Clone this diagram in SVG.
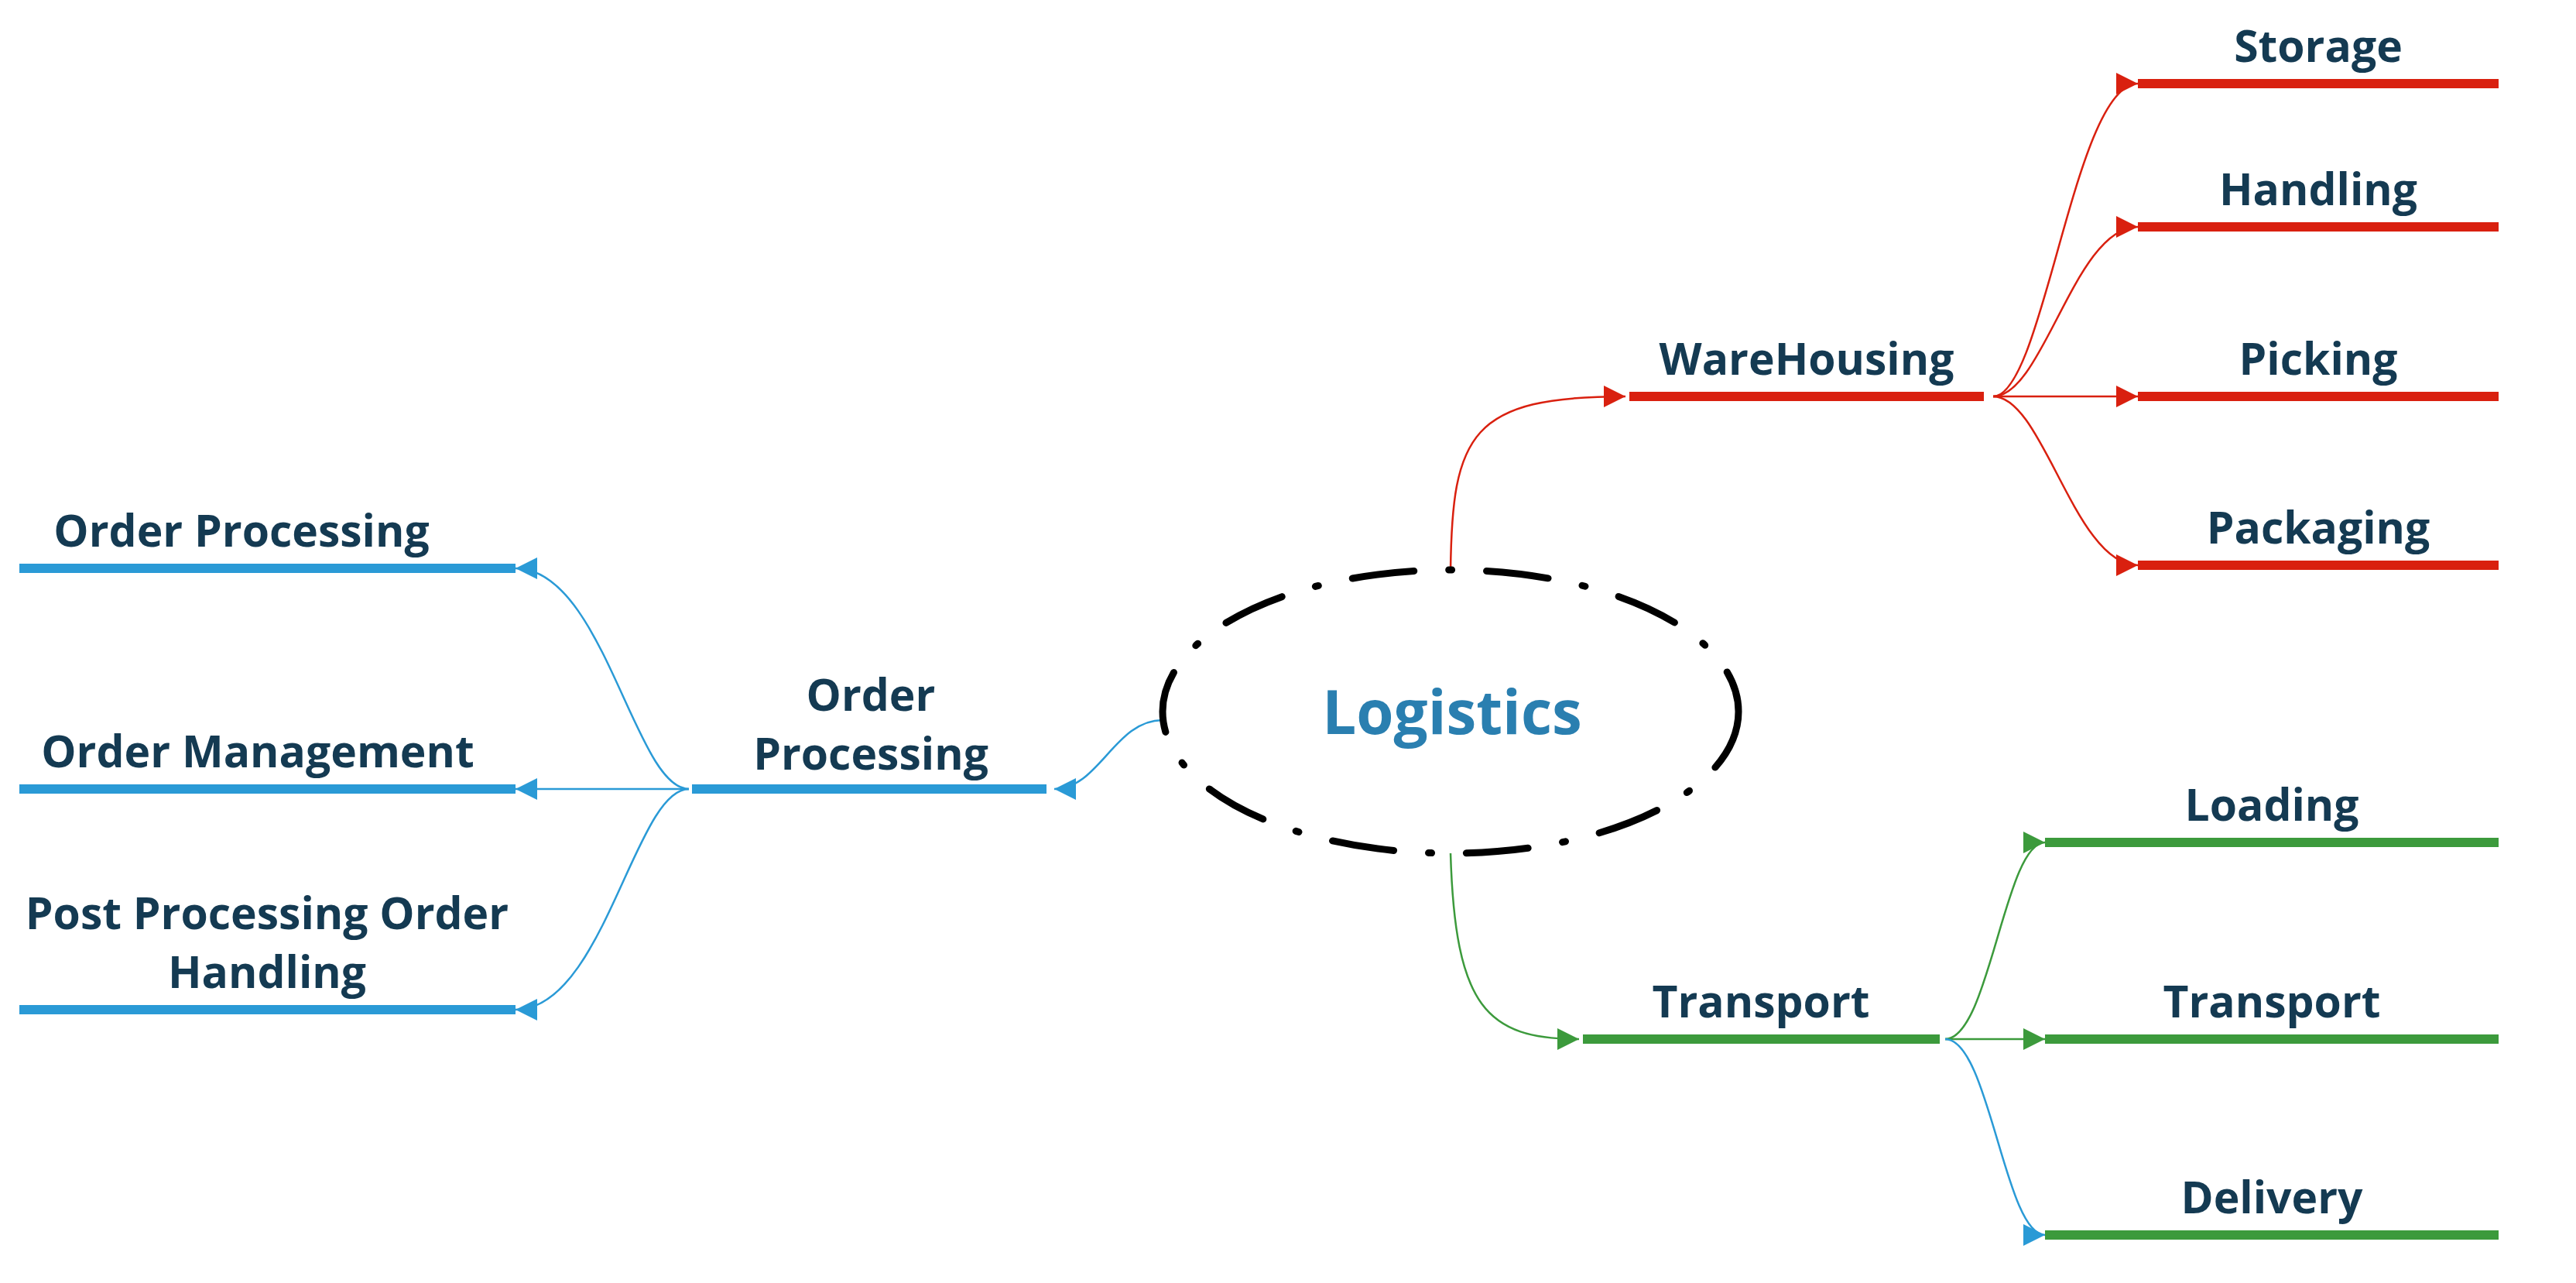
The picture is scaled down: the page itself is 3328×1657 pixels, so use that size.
<svg xmlns="http://www.w3.org/2000/svg" width="3328" height="1657" viewBox="0 0 3328 1657">
<style>
text{font-family:"Open Sans","Liberation Sans",sans-serif;font-weight:700;fill:#143A52;font-size:57px;text-anchor:middle}
.c{fill:none;stroke-width:2.5}
.r{stroke:#D9200F}.g{stroke:#3C9A3C}.b{stroke:#2A9AD6}
.bar{stroke-width:12}
</style>
<defs>
<marker id="ar" viewBox="0 0 10 10" refX="10" refY="5" markerWidth="28" markerHeight="28" markerUnits="userSpaceOnUse" orient="auto"><path d="M0,0L10,5L0,10z" fill="#D9200F"/></marker>
<marker id="ag" viewBox="0 0 10 10" refX="10" refY="5" markerWidth="28" markerHeight="28" markerUnits="userSpaceOnUse" orient="auto"><path d="M0,0L10,5L0,10z" fill="#3C9A3C"/></marker>
<marker id="ab" viewBox="0 0 10 10" refX="10" refY="5" markerWidth="28" markerHeight="28" markerUnits="userSpaceOnUse" orient="auto"><path d="M0,0L10,5L0,10z" fill="#2A9AD6"/></marker>
</defs>
<rect width="3328" height="1657" fill="#fff"/>
<g id="connectors">
<path class="c r" d="M1874,738 C1876,560 1900,512 2100,512" marker-end="url(#ar)"/>
<path class="c r" d="M2575,512 C2640,512 2680,108 2762,108" marker-end="url(#ar)"/>
<path class="c r" d="M2575,512 C2640,512 2680,293 2762,293" marker-end="url(#ar)"/>
<path class="c r" d="M2575,512 L2762,512" marker-end="url(#ar)"/>
<path class="c r" d="M2575,512 C2640,512 2680,730 2762,730" marker-end="url(#ar)"/>
<path class="c g" d="M1874,1102 C1880,1300 1920,1342 2040,1342" marker-end="url(#ag)"/>
<path class="c g" d="M2513,1342 C2570,1342 2590,1088 2642,1088" marker-end="url(#ag)"/>
<path class="c g" d="M2513,1342 L2642,1342" marker-end="url(#ag)"/>
<path class="c b" d="M2513,1342 C2570,1342 2590,1595 2642,1595" marker-end="url(#ab)"/>
<path class="c b" d="M1502,930 C1440,930 1420,1019 1362,1019" marker-end="url(#ab)"/>
<path class="c b" d="M890,1019 C820,1019 780,734 666,734" marker-end="url(#ab)"/>
<path class="c b" d="M890,1019 L666,1019" marker-end="url(#ab)"/>
<path class="c b" d="M890,1019 C820,1019 780,1304 666,1304" marker-end="url(#ab)"/>
</g>
<g id="logistics">
<ellipse cx="1874" cy="919" rx="372" ry="183" fill="none" stroke="#000" stroke-width="9" stroke-dasharray="80 45 4 45" stroke-linecap="round"/>
<text x="1876" y="948" style="fill:#2A7FB0;font-size:78px">Logistics</text>
</g>
<g id="warehousing"><line class="bar r" x1="2105" y1="512" x2="2563" y2="512"/><text x="2334" y="484">WareHousing</text></g>
<g id="storage"><line class="bar r" x1="2762" y1="108" x2="3228" y2="108"/><text x="2995" y="80">Storage</text></g>
<g id="handling"><line class="bar r" x1="2762" y1="293" x2="3228" y2="293"/><text x="2995" y="265">Handling</text></g>
<g id="picking"><line class="bar r" x1="2762" y1="512" x2="3228" y2="512"/><text x="2995" y="484">Picking</text></g>
<g id="packaging"><line class="bar r" x1="2762" y1="730" x2="3228" y2="730"/><text x="2995" y="702">Packaging</text></g>
<g id="transport"><line class="bar g" x1="2045" y1="1342" x2="2506" y2="1342"/><text x="2275" y="1314">Transport</text></g>
<g id="loading"><line class="bar g" x1="2642" y1="1088" x2="3228" y2="1088"/><text x="2935" y="1060">Loading</text></g>
<g id="transport2"><line class="bar g" x1="2642" y1="1342" x2="3228" y2="1342"/><text x="2935" y="1314">Transport</text></g>
<g id="delivery"><line class="bar g" x1="2642" y1="1595" x2="3228" y2="1595"/><text x="2935" y="1567">Delivery</text></g>
<g id="orderprocessing"><line class="bar b" x1="894" y1="1019" x2="1352" y2="1019"/><text x="1125" y="918">Order</text><text x="1125" y="994">Processing</text></g>
<g id="op1"><line class="bar b" x1="25" y1="734" x2="666" y2="734"/><text x="312" y="706">Order Processing</text></g>
<g id="op2"><line class="bar b" x1="25" y1="1019" x2="666" y2="1019"/><text x="333" y="991">Order Management</text></g>
<g id="op3"><line class="bar b" x1="25" y1="1304" x2="666" y2="1304"/><text x="345" y="1200">Post Processing Order</text><text x="345" y="1276">Handling</text></g>
</svg>
